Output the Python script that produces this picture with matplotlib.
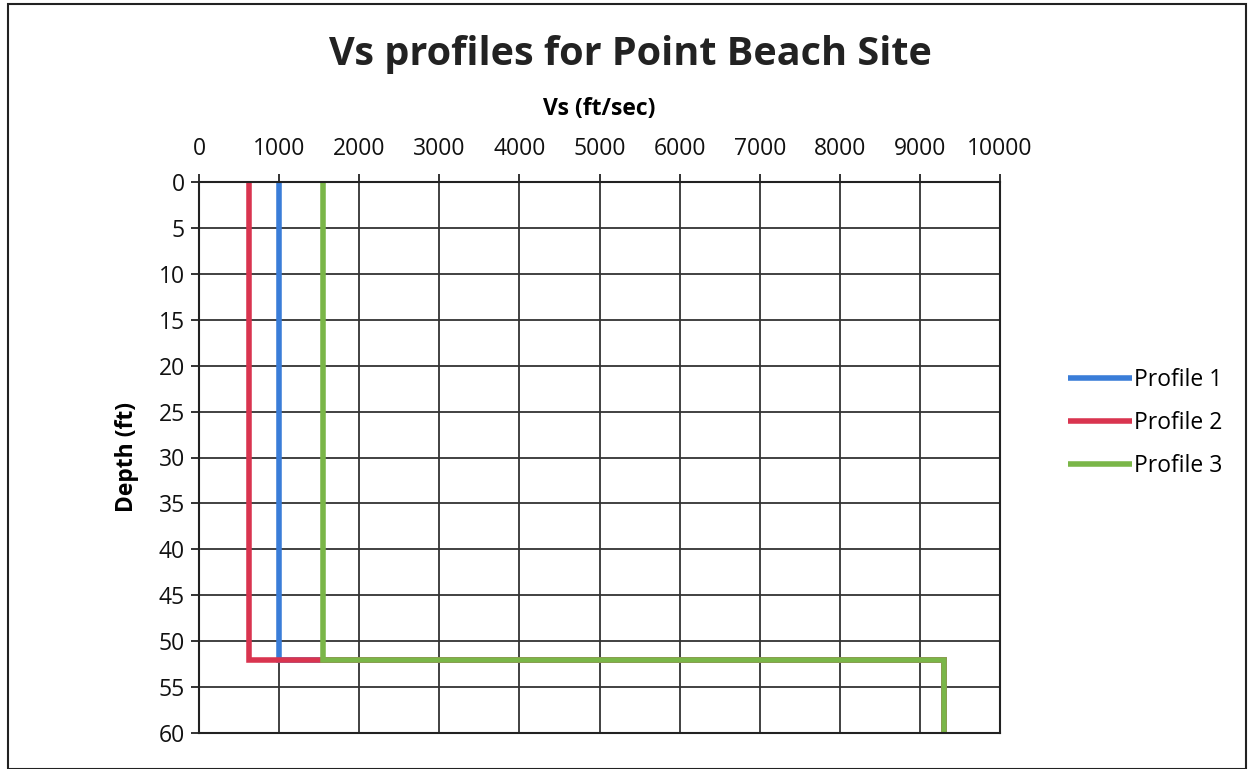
import matplotlib
matplotlib.use("Agg")
import matplotlib.pyplot as plt
from matplotlib.patches import Rectangle

# Data
profile_names = ["Profile 1", "Profile 2", "Profile 3"]
colors = ["#3a7dd8", "#d9344f", "#7ab648"]
depth = [0, 52, 52, 60]
vs_p1 = [1000, 1000, 9300, 9300]
vs_p2 = [620, 620, 9300, 9300]
vs_p3 = [1550, 1550, 9300, 9300]
x_ticks = [0, 1000, 2000, 3000, 4000, 5000, 6000, 7000, 8000, 9000, 10000]
y_ticks = [0, 5, 10, 15, 20, 25, 30, 35, 40, 45, 50, 55, 60]

plt.rcParams['font.family'] = ['Open Sans', 'DejaVu Sans']

fig = plt.figure(figsize=(12.5, 7.69), dpi=100)
W, H = 1250, 769
ax = fig.add_axes([199 / W, 1 - 733 / H, (1000 - 199) / W, (733 - 182) / H])

for vs, c, n in zip([vs_p1, vs_p2, vs_p3], colors, profile_names):
    ax.plot(vs, depth, color=c, lw=4, label=n, solid_capstyle='butt', solid_joinstyle='miter')

ax.set_xlim(0, 10000)
ax.set_ylim(60, 0)
ax.set_xticks(x_ticks)
ax.set_yticks(y_ticks)
ax.xaxis.tick_top()
ax.xaxis.set_label_position('top')
ax.tick_params(axis='both', labelsize=16.5, color='#222222', length=6, width=1.3,
               direction='out', labelcolor='#111111', pad=4)
ax.tick_params(axis='x', pad=9)
ax.grid(True, color='#333333', lw=1.3)
ax.set_axisbelow(True)
for s in ax.spines.values():
    s.set_color('#222222')
    s.set_linewidth(1.5)

ax.set_xlabel("Vs (ft/sec)", fontsize=16.5, fontweight='bold', labelpad=16)
ax.set_ylabel("Depth (ft)", fontsize=16.5, fontweight='bold', labelpad=14)
fig.text(630 / W, 1 - 55 / H, "Vs profiles for Point Beach Site", fontsize=28.5,
         fontweight='bold', ha='center', va='center', color='#222222')

leg = fig.legend(loc='center left', bbox_to_anchor=(1047 / W, 1 - 423 / H), frameon=False,
                 fontsize=16.5, handlelength=2.8, handletextpad=0.1, labelspacing=0.85)

fig.patches.append(Rectangle((8 / W, 0), (1246 - 8) / W, 1 - 4 / H, transform=fig.transFigure,
                             fill=False, edgecolor='#222222', lw=1.5))

fig.savefig("out.png", dpi=100)
